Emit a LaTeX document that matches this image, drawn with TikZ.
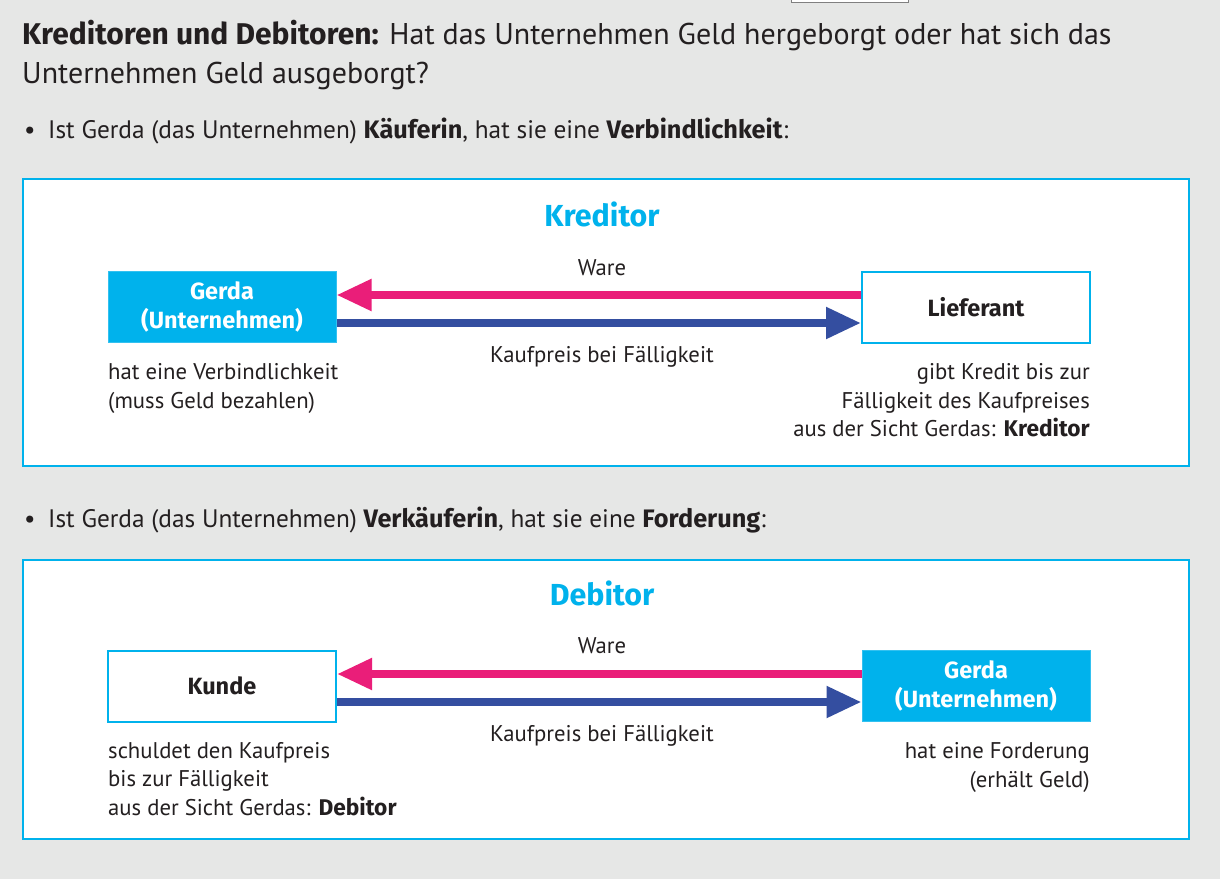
\documentclass[tikz,border=0pt]{standalone}
\usepackage{fontspec}
\setmainfont{PT Sans}[BoldFont={Fira Sans Bold}]
\usetikzlibrary{arrows.meta}
\definecolor{bgc}{HTML}{E6E7E6}
\definecolor{cyanc}{HTML}{00B2EC}
\definecolor{pinkc}{HTML}{EA1E79}
\definecolor{bluec}{HTML}{344EA0}
\definecolor{txt}{HTML}{231F20}
\tikzset{
  frame/.style={draw=cyanc, line width=2.6pt, fill=white},
  filledbox/.style={fill=cyanc, draw=cyanc!80!white, line width=1pt, minimum width=228pt, minimum height=71pt, inner sep=0pt, align=center, text=white, font=\fontsize{23.5}{29}\selectfont\bfseries},
  whitebox/.style={fill=white, draw=cyanc, line width=2pt, minimum width=228pt, minimum height=71pt, inner sep=0pt, align=center, text=txt, font=\fontsize{23.5}{29}\selectfont\bfseries},
  heading/.style={text=cyanc, font=\fontsize{30.4}{34}\selectfont\bfseries, anchor=base, inner sep=0pt},
  body/.style={text=txt, font=\fontsize{22.7}{28.5}\selectfont, inner sep=0pt},
  bullet/.style={text=txt, font=\fontsize{25.3}{30}\selectfont, inner sep=0pt, anchor=base west},
  title/.style={text=txt, font=\fontsize{30}{38}\selectfont, inner sep=0pt, anchor=base west},
  pinkarrow/.style={draw=pinkc, line width=8pt, -{Triangle[length=35pt,width=30pt]}},
  bluearrow/.style={draw=bluec, line width=8pt, -{Triangle[length=35pt,width=30pt]}}
}
\begin{document}
\begin{tikzpicture}[x=1pt,y=-1pt]
\fill[bgc] (0,0) rectangle (1220,879);
\useasboundingbox (0,0) rectangle (1220,879);
\draw[gray, fill=white, line width=1pt] (791,-3) rectangle (908,2);
% title
\node[title] (t1) at (22,44) {\textbf{Kreditoren und Debitoren:} Hat das Unternehmen Geld hergeborgt oder hat sich das};
\node[title] (t2) at (22,83) {Unternehmen Geld ausgeborgt?};
% bullet 1
\node[bullet] (b1) at (24,138) {•};
\node[bullet] (b1t) at (48,138) {Ist Gerda (das Unternehmen) \textbf{Käuferin}, hat sie eine \textbf{Verbindlichkeit}:};
% frame 1
\draw[frame] (23,179) rectangle (1189,466);
\node[heading] (h1) at (602,226) {Kreditor};
\node[filledbox] (g1) at (222,307) {Gerda\\(Unternehmen)};
\node[whitebox] (l1) at (976,307) {Lieferant};
\draw[pinkarrow] ([yshift=12pt]l1.west) -- ([yshift=12pt]g1.east);
\draw[bluearrow] ([yshift=-16pt]g1.east) -- ([yshift=-16pt]l1.west);
\node[body, anchor=base] (w1) at (602,275) {Ware};
\node[body, anchor=base] (k1) at (602,362) {Kaufpreis bei Fälligkeit};
\node[body, anchor=base west] (g1a) at (108,379) {hat eine Verbindlichkeit};
\node[body, anchor=base west] (g1b) at (108,408) {(muss Geld bezahlen)};
\node[body, anchor=base east] (l1a) at (1090,379) {gibt Kredit bis zur};
\node[body, anchor=base east] (l1b) at (1090,408) {Fälligkeit des Kaufpreises};
\node[body, anchor=base east] (l1c) at (1090,436) {aus der Sicht Gerdas: \textbf{Kreditor}};
% bullet 2
\node[bullet] (b2) at (24,527) {•};
\node[bullet] (b2t) at (48,527) {Ist Gerda (das Unternehmen) \textbf{Verkäuferin}, hat sie eine \textbf{Forderung}:};
% frame 2
\draw[frame] (23,560) rectangle (1189,839);
\node[heading] (h2) at (602,605) {Debitor};
\node[whitebox] (k2) at (222,686) {Kunde};
\node[filledbox] (g2) at (976,686) {Gerda\\(Unternehmen)};
\draw[pinkarrow] ([yshift=12pt]g2.west) -- ([yshift=12pt]k2.east);
\draw[bluearrow] ([yshift=-16pt]k2.east) -- ([yshift=-16pt]g2.west);
\node[body, anchor=base] (w2) at (602,653) {Ware};
\node[body, anchor=base] (kp2) at (602,741) {Kaufpreis bei Fälligkeit};
\node[body, anchor=base west] (k2a) at (108,758) {schuldet den Kaufpreis};
\node[body, anchor=base west] (k2b) at (108,786) {bis zur Fälligkeit};
\node[body, anchor=base west] (k2c) at (108,815) {aus der Sicht Gerdas: \textbf{Debitor}};
\node[body, anchor=base east] (g2a) at (1090,758) {hat eine Forderung};
\node[body, anchor=base east] (g2b) at (1090,787) {(erhält Geld)};
\end{tikzpicture}
\end{document}
